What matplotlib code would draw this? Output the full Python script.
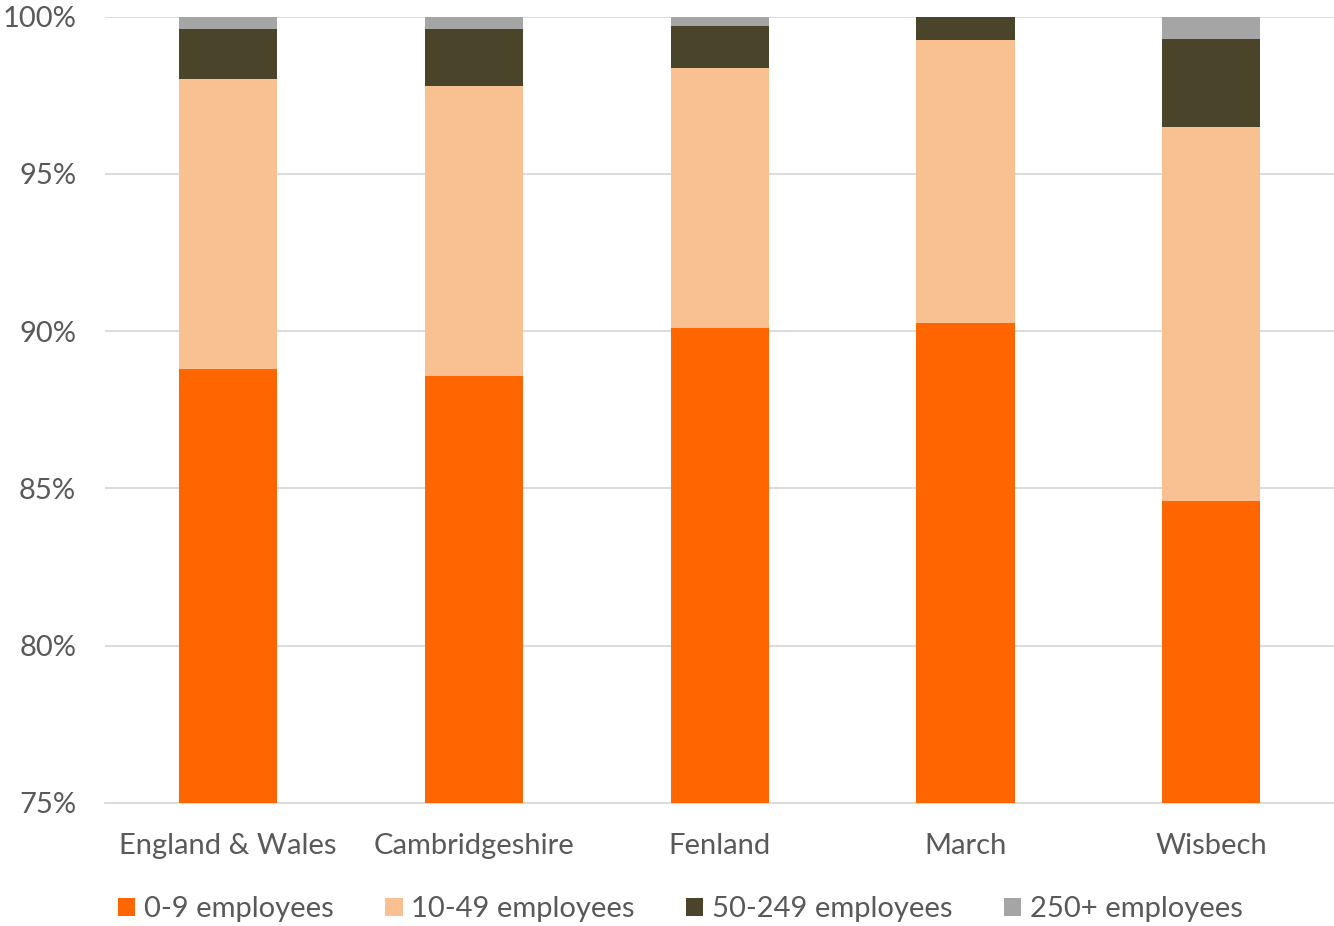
import matplotlib.pyplot as plt
import numpy as np

plt.rcParams['font.family'] = ['Lato', 'DejaVu Sans']

areas = ["England & Wales", "Cambridgeshire", "Fenland", "March", "Wisbech"]
size_bands = ["0-9 employees", "10-49 employees", "50-249 employees", "250+ employees"]
micro = [88.80, 88.58, 90.11, 90.27, 84.61]
small = [9.23, 9.23, 8.27, 9.00, 11.89]
medium = [1.59, 1.81, 1.33, 0.73, 2.80]
large = [0.38, 0.38, 0.29, 0.00, 0.70]
colours = ["#ff6600", "#f9c192", "#4a442a", "#a5a5a5"]

fig, ax = plt.subplots(figsize=(13.34, 9.26), dpi=100)
fig.subplots_adjust(left=0.079, right=1.0, top=0.982, bottom=0.133)

x = np.arange(len(areas))
bottom = np.zeros(len(areas))
for vals, lab, c in zip([micro, small, medium, large], size_bands, colours):
    ax.bar(x, vals, 0.4, bottom=bottom, color=c, label=lab, zorder=3)
    bottom += np.array(vals)

ax.set_ylim(75, 100)
ax.set_xlim(-0.5, 4.5)
ax.set_yticks([75, 80, 85, 90, 95, 100])
ax.set_yticklabels([f"{t}%" for t in [75, 80, 85, 90, 95, 100]])
ax.set_xticks(x)
ax.set_xticklabels(areas)
ax.grid(axis='y', color='#d9d9d9', linewidth=1.3, zorder=0)
for s in ['top', 'right', 'left']:
    ax.spines[s].set_visible(False)
ax.spines['bottom'].set_color('#d9d9d9')
ax.spines['bottom'].set_linewidth(1.3)
ax.tick_params(axis='both', length=0, labelsize=21, colors='#595959')
ax.tick_params(axis='x', pad=22)
ax.tick_params(axis='y', pad=21)

fig.legend(loc='lower center', ncol=4, frameon=False, fontsize=21,
           labelcolor='#595959', handlelength=0.6, handleheight=0.6,
           handletextpad=0.3, columnspacing=1.75, borderpad=0,
           borderaxespad=0, bbox_to_anchor=(0.51, 0.004))

fig.savefig("out.png", dpi=100)
